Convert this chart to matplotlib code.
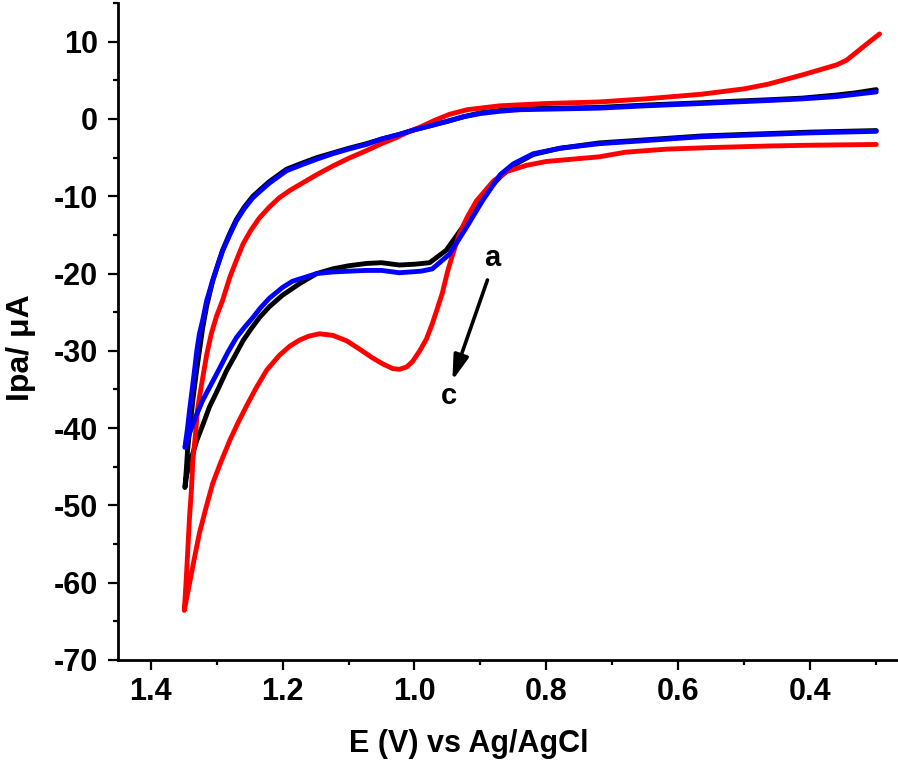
import matplotlib.pyplot as plt
from matplotlib.ticker import MultipleLocator

# curve a (black): forward branch 0.3 -> 1.35 V, then reverse branch back to 0.3 V
a_x = [0.30, 0.40, 0.50, 0.565, 0.65, 0.72, 0.78, 0.82, 0.85, 0.87, 0.89, 0.905, 0.927, 0.952, 0.977,
       1.00, 1.023, 1.05, 1.073, 1.10, 1.124, 1.148, 1.174, 1.20, 1.22, 1.235, 1.248, 1.26, 1.272, 1.285,
       1.298, 1.311, 1.32, 1.33, 1.338, 1.345, 1.348,
       1.346, 1.344, 1.34, 1.336, 1.331, 1.326, 1.321, 1.315, 1.306, 1.298, 1.291, 1.28, 1.27, 1.258,
       1.245, 1.232, 1.22, 1.207, 1.194, 1.17, 1.148, 1.124, 1.10, 1.073, 1.05, 1.023, 1.00, 0.977, 0.95,
       0.925, 0.90, 0.87, 0.84, 0.78, 0.72, 0.65, 0.565, 0.515, 0.46, 0.412, 0.36, 0.33, 0.30]
a_y = [-1.5, -1.7, -2.0, -2.2, -2.7, -3.1, -3.8, -4.6, -6.0, -7.5, -9.3, -10.8, -14.0, -17.0, -18.6,
       -18.8, -18.9, -18.6, -18.7, -19.0, -19.4, -20.0, -21.3, -22.8, -24.3, -25.7, -27.2, -28.7, -30.6, -32.6,
       -35.0, -37.3, -39.4, -41.6, -43.8, -45.9, -47.7,
       -45.5, -42.9, -39.6, -36.4, -33.0, -30.0, -27.0, -24.2, -21.0, -18.8, -17.0, -14.8, -13.0, -11.4,
       -10.0, -9.0, -8.1, -7.3, -6.5, -5.7, -5.0, -4.4, -3.8, -3.2, -2.6, -2.0, -1.4, -0.9, -0.3,
       0.3, 0.8, 1.1, 1.3, 1.4, 1.5, 1.8, 2.1, 2.3, 2.5, 2.7, 3.1, 3.4, 3.8]

# curve b (blue)
b_x = [0.30, 0.40, 0.50, 0.565, 0.65, 0.72, 0.78, 0.82, 0.85, 0.87, 0.897, 0.921, 0.947, 0.973, 0.99,
       1.023, 1.05, 1.073, 1.10, 1.124, 1.148, 1.17, 1.185, 1.20, 1.22, 1.233, 1.245, 1.258, 1.27, 1.283,
       1.295, 1.308, 1.321, 1.332, 1.341, 1.348,
       1.344, 1.341, 1.337, 1.333, 1.33, 1.326, 1.321, 1.315, 1.306, 1.298, 1.291, 1.28, 1.27, 1.258,
       1.245, 1.232, 1.22, 1.207, 1.194, 1.17, 1.148, 1.124, 1.10, 1.073, 1.05, 1.023, 1.00, 0.977, 0.95,
       0.925, 0.90, 0.87, 0.84, 0.78, 0.72, 0.65, 0.565, 0.515, 0.46, 0.412, 0.36, 0.33, 0.30]
b_y = [-1.6, -1.8, -2.1, -2.3, -2.8, -3.2, -3.8, -4.5, -5.8, -7.2, -10.6, -14.0, -17.5, -19.4, -19.7,
       -19.9, -19.6, -19.6, -19.7, -19.8, -20.0, -20.6, -21.0, -21.8, -23.2, -24.4, -25.7, -27.0, -28.3, -30.2,
       -32.2, -34.3, -36.4, -38.6, -40.7, -42.5,
       -40.0, -37.7, -35.0, -32.2, -30.0, -27.8, -26.0, -23.5, -20.9, -18.9, -17.1, -15.0, -13.2, -11.6,
       -10.2, -9.2, -8.3, -7.5, -6.7, -5.9, -5.2, -4.5, -3.9, -3.3, -2.6, -2.0, -1.4, -0.9, -0.3,
       0.3, 0.7, 1.0, 1.2, 1.3, 1.4, 1.7, 2.0, 2.2, 2.4, 2.6, 2.9, 3.2, 3.5]

# curve c (red)
c_x = [0.30, 0.40, 0.464, 0.55, 0.617, 0.68, 0.72, 0.76, 0.80, 0.83, 0.86, 0.88, 0.906, 0.92, 0.932,
       0.942, 0.95, 0.958, 0.966, 0.973, 0.982, 0.992, 1.003, 1.012, 1.023, 1.033, 1.048, 1.064, 1.083,
       1.103, 1.124, 1.144, 1.16, 1.174, 1.189, 1.205, 1.224, 1.24, 1.255, 1.268, 1.28, 1.294, 1.306, 1.316,
       1.326, 1.334, 1.341, 1.346, 1.349,
       1.347, 1.345, 1.343, 1.341, 1.338, 1.336, 1.332, 1.329, 1.325, 1.321, 1.315, 1.308, 1.30, 1.291,
       1.28, 1.27, 1.26, 1.248, 1.235, 1.22, 1.205, 1.188, 1.17, 1.148, 1.124, 1.10, 1.073, 1.05, 1.027,
       1.01, 0.99, 0.97, 0.947, 0.92, 0.871, 0.80, 0.72, 0.65, 0.565, 0.50, 0.464, 0.412, 0.36, 0.345,
       0.329, 0.31, 0.295]
c_y = [-3.3, -3.4, -3.5, -3.7, -3.9, -4.3, -4.9, -5.2, -5.5, -6.0, -6.8, -8.0, -10.6, -12.7, -14.9,
       -17.5, -19.8, -22.6, -24.7, -26.5, -28.5, -30.0, -31.4, -32.1, -32.4, -32.3, -31.7, -30.9, -29.8,
       -28.7, -28.0, -27.8, -28.1, -28.6, -29.4, -30.6, -32.5, -34.8, -37.2, -39.4, -41.6, -44.5, -47.2, -50.3,
       -53.6, -57.0, -60.1, -62.3, -63.6,
       -61.0, -58.0, -54.7, -51.5, -47.8, -44.2, -40.8, -37.7, -35.5, -33.5, -30.5, -27.8, -25.5, -23.5,
       -20.5, -18.3, -16.2, -14.4, -12.8, -11.4, -10.2, -9.2, -8.3, -7.2, -6.1, -5.1, -4.1, -3.2, -2.4,
       -1.7, -1.0, -0.2, 0.6, 1.2, 1.7, 2.0, 2.2, 2.6, 3.2, 3.9, 4.5, 5.7, 7.0, 7.6,
       8.7, 10.0, 11.0]

x_ticks = [1.4, 1.2, 1.0, 0.8, 0.6, 0.4]
y_ticks = [10, 0, -10, -20, -30, -40, -50, -60, -70]

bold = {'family': ['Liberation Sans', 'DejaVu Sans'], 'weight': 'bold'}

fig = plt.figure(figsize=(8.98, 7.62), dpi=100)
ax = fig.add_axes([0.131, 0.134, 0.869, 0.862])

line_kw = dict(lw=3.5, solid_capstyle='round', solid_joinstyle='round')
ax.plot(a_x, a_y, color='black', **line_kw)
ax.plot(c_x, c_y, color='#ff0000', **line_kw)
ax.plot(b_x, b_y, color='#0000ff', **line_kw)

ax.set_xlim(1.45, 0.267)
ax.set_ylim(-70, 15)

ax.spines['top'].set_visible(False)
ax.spines['right'].set_visible(False)
ax.spines['left'].set_linewidth(2)
ax.spines['bottom'].set_linewidth(2)

ax.set_xticks(x_ticks)
ax.set_yticks(y_ticks)
ax.xaxis.set_minor_locator(MultipleLocator(0.1))
ax.yaxis.set_minor_locator(MultipleLocator(5))
ax.tick_params(which='major', direction='out', length=7.5, width=1.6)
ax.tick_params(which='minor', direction='out', length=3.8, width=1.6)
ax.tick_params(axis='x', which='major', pad=4.5)
ax.tick_params(axis='y', which='major', pad=6.5)

ax.set_xticklabels([f'{v:.1f}' for v in x_ticks], fontdict=dict(bold, size=22))
ax.set_yticklabels([str(v) for v in y_ticks], fontdict=dict(bold, size=22))

ax.set_xlabel('E (V) vs Ag/AgCl', fontdict=dict(bold, size=22))
ax.xaxis.set_label_coords(0.45, -0.105)
ax.set_ylabel('Ipa/ μA', fontdict=dict(bold, size=23))
ax.yaxis.set_label_coords(-0.105, 0.475)

ax.annotate('', xy=(0.944, -34.2), xytext=(0.888, -20.5),
            arrowprops=dict(arrowstyle='-|>,head_length=1.5,head_width=0.45', color='black', lw=2.6))
ax.text(0.882, -18.0, 'a', fontdict=dict(bold, size=21), ha='center', va='center')
ax.text(0.948, -35.8, 'c', fontdict=dict(bold, size=21), ha='center', va='center')

plt.savefig('out.png', dpi=100)
